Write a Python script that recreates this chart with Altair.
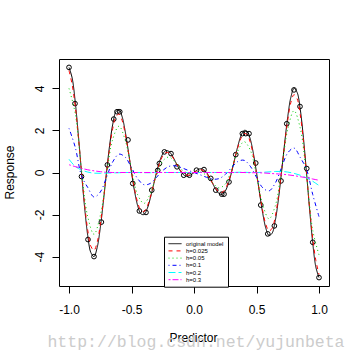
import altair as alt
import pandas as pd

# ---------------- data ----------------
x_fine = [-1.0, -0.975, -0.95, -0.925, -0.9, -0.875, -0.85, -0.825, -0.8, -0.775,
          -0.75, -0.725, -0.7, -0.675, -0.65, -0.625, -0.6, -0.575, -0.55, -0.525,
          -0.5, -0.475, -0.45, -0.425, -0.4, -0.375, -0.35, -0.325, -0.3, -0.275,
          -0.25, -0.225, -0.2, -0.175, -0.15, -0.125, -0.1, -0.075, -0.05, -0.025,
          0.0, 0.025, 0.05, 0.075, 0.1, 0.125, 0.15, 0.175, 0.2, 0.225,
          0.25, 0.275, 0.3, 0.325, 0.35, 0.375, 0.4, 0.425, 0.45, 0.475,
          0.5, 0.525, 0.55, 0.575, 0.6, 0.625, 0.65, 0.675, 0.7, 0.725,
          0.75, 0.775, 0.8, 0.825, 0.85, 0.875, 0.9, 0.925, 0.95, 0.975, 1.0]

orig_y = [5.0, 4.504, 3.359, 1.770, 0.0, -1.674, -3.005, -3.811, -4.0, -3.580,
          -2.652, -1.387, 0.0, 1.292, 2.298, 2.887, 3.0, 2.656, 1.945, 1.005,
          0.0, -0.909, -1.591, -1.963, -2.0, -1.732, -1.237, -0.622, 0.0, 0.526,
          0.884, 1.039, 1.0, 0.808, 0.530, 0.239, 0.0, -0.144, -0.177, -0.115,
          0.0, 0.115, 0.177, 0.144, 0.0, -0.239, -0.530, -0.808, -1.0, -1.039,
          -0.884, -0.526, 0.0, 0.622, 1.237, 1.732, 2.0, 1.963, 1.591, 0.909,
          0.0, -1.005, -1.945, -2.656, -3.0, -2.887, -2.298, -1.292, 0.0, 1.387,
          2.652, 3.580, 4.0, 3.811, 3.005, 1.674, 0.0, -1.770, -3.359, -4.504, -5.0]

h025_y = [4.85, 4.19, 3.143, 1.681, 0.045, -1.508, -2.750, -3.511, -3.704, -3.333,
          -2.488, -1.326, -0.045, 1.155, 2.096, 2.656, 2.778, 2.477, 1.833, 0.972,
          0.045, -0.800, -1.441, -1.800, -1.852, -1.621, -1.178, -0.618, -0.045, 0.445,
          0.786, 0.945, 0.926, 0.766, 0.523, 0.263, 0.045, -0.092, -0.131, -0.089,
          0.0, 0.089, 0.131, 0.092, -0.045, -0.263, -0.523, -0.766, -0.926, -0.945,
          -0.786, -0.445, 0.045, 0.618, 1.178, 1.621, 1.852, 1.800, 1.441, 0.800,
          -0.045, -0.972, -1.833, -2.477, -2.778, -2.656, -2.096, -1.155, 0.045, 1.326,
          2.488, 3.333, 3.704, 3.511, 2.750, 1.508, -0.045, -1.681, -3.143, -4.19, -4.85]

x_coarse = [-1.0, -0.95, -0.9, -0.85, -0.8, -0.75, -0.7, -0.65, -0.6, -0.55,
            -0.5, -0.45, -0.4, -0.35, -0.3, -0.25, -0.2, -0.15, -0.1, -0.05,
            0.0, 0.05, 0.1, 0.15, 0.2, 0.25, 0.3, 0.35, 0.4, 0.45,
            0.5, 0.55, 0.6, 0.65, 0.7, 0.75, 0.8, 0.85, 0.9, 0.95, 1.0]

h05_y = [4.0, 2.8, 0.144, -2.107, -2.94, -2.051, -0.144, 1.587, 2.205, 1.532,
         0.144, -1.067, -1.47, -1.011, -0.144, 0.548, 0.735, 0.492, 0.144, -0.028,
         0.0, 0.028, -0.144, -0.492, -0.735, -0.548, 0.144, 1.011, 1.47, 1.067,
         -0.144, -1.532, -2.205, -1.587, 0.144, 2.051, 2.94, 2.107, -0.144, -2.75, -3.92]

h1_y = [2.1, 1.2, -0.15, -0.713, -1.164, -0.933, -0.228, 0.507, 0.873, 0.728,
        0.228, -0.301, -0.582, -0.521, -0.228, 0.096, 0.291, 0.316, 0.228, 0.110,
        0.0, -0.110, -0.228, -0.316, -0.291, -0.096, 0.228, 0.521, 0.582, 0.301,
        -0.228, -0.728, -0.873, -0.507, 0.228, 0.933, 1.164, 0.713, 0.15, -1.05, -2.1]

h2_y = [0.63, 0.29, 0.12, 0.02, -0.03, -0.04, -0.03, -0.02, -0.01, 0.0,
        0.0, 0.0, -0.01, -0.01, 0.0, 0.0, 0.0, 0.0, 0.0, 0.0,
        0.0, 0.0, 0.0, 0.0, 0.0, 0.0, 0.0, 0.01, 0.01, 0.0,
        0.0, 0.01, 0.03, 0.05, 0.05, 0.02, -0.04, -0.13, -0.26, -0.42, -0.62]

h3_y = [0.37, 0.28, 0.2, 0.13, 0.08, 0.04, 0.01, 0.0, 0.0, 0.0,
        0.0, 0.0, 0.0, 0.0, 0.0, 0.0, 0.0, 0.0, 0.0, 0.0,
        0.0, 0.0, 0.0, 0.0, 0.0, 0.0, 0.0, 0.0, 0.0, -0.01,
        -0.01, -0.02, -0.04, -0.06, -0.08, -0.11, -0.15, -0.2, -0.25, -0.31, -0.37]

pt_x = [-1.0, -0.952, -0.9, -0.848, -0.8, -0.741, -0.693, -0.642, -0.616, -0.594,
        -0.528, -0.49, -0.437, -0.384, -0.338, -0.29, -0.277, -0.237, -0.184, -0.136,
        -0.082, -0.037, 0.02, 0.08, 0.134, 0.174, 0.222, 0.24, 0.28, 0.334,
        0.387, 0.414, 0.44, 0.494, 0.534, 0.59, 0.643, 0.696, 0.742, 0.80,
        0.848, 0.902, 0.95, 1.0]
pt_y = [5.0, 3.28, -0.19, -3.19, -4.0, -2.36, 0.36, 2.54, 2.89, 2.89,
        1.55, -0.52, -1.83, -1.9, -0.84, 0.1, 0.43, 0.98, 0.9, 0.27,
        -0.13, -0.13, 0.11, 0.14, -0.28, -0.84, -1.03, -1.03, -0.45, 0.85,
        1.85, 1.85, 1.85, 0.45, -1.55, -2.92, -2.54, -0.4, 2.32, 3.93,
        3.14, 0.19, -3.32, -5.0]

series_names = ["original model", "h=0.025", "h=0.05", "h=0.1", "h=0.2", "h=0.3"]
series_colors = ["#000000", "#FF0000", "#00CD00", "#0000FF", "#00FFFF", "#FF00FF"]
series_dash = [[1, 0], [4, 4], [1, 3], [1, 3, 4, 3], [7, 3], [2, 2, 6, 2]]

series_data = [
    (x_fine, orig_y), (x_fine, h025_y), (x_coarse, h05_y),
    (x_coarse, h1_y), (x_coarse, h2_y), (x_coarse, h3_y),
]

rows = []
for i, (name, (xs, ys)) in enumerate(zip(series_names, series_data)):
    for xv, yv in zip(xs, ys):
        rows.append({"x": xv, "y": yv, "series": name, "ord": i})
lines_df = pd.DataFrame(rows)
pts_df = pd.DataFrame({"x": pt_x, "y": pt_y})

# ---------------- chart ----------------
xscale = alt.Scale(domain=[-1.08, 1.08], nice=False, zero=False)
yscale = alt.Scale(domain=[-5.4, 5.4], nice=False, zero=False)

xaxis = alt.Axis(values=[-1, -0.5, 0, 0.5, 1], format=".1f",
                 labelExpr="replace(datum.label, '\u2212', '-')",
                 title="Predictor", labelBaseline="alphabetic", labelPadding=20,
                 titleX=134, titleY=51, titleAlign="center", titleBaseline="middle")
yaxis = alt.Axis(values=[-4, -2, 0, 2, 4], format="d",
                 labelExpr="replace(datum.label, '\u2212', '-')",
                 title="Response", labelAngle=270, labelAlign="center",
                 labelBaseline="alphabetic", labelPadding=9,
                 titleAngle=270, titleX=-49.5, titleY=113,
                 titleAlign="center", titleBaseline="middle")

points = alt.Chart(pts_df).mark_point(
    shape="circle", filled=False, color="black", size=22, strokeWidth=1, opacity=1
).encode(
    x=alt.X("x:Q", scale=xscale, axis=xaxis),
    y=alt.Y("y:Q", scale=yscale, axis=yaxis),
)

lines = alt.Chart(lines_df).mark_line(
    strokeWidth=1, interpolate="catmull-rom"
).encode(
    x=alt.X("x:Q", scale=xscale),
    y=alt.Y("y:Q", scale=yscale),
    color=alt.Color("series:N",
                    scale=alt.Scale(domain=series_names, range=series_colors),
                    legend=alt.Legend(title=None)),
    strokeDash=alt.StrokeDash("series:N",
                              scale=alt.Scale(domain=series_names, range=series_dash),
                              legend=alt.Legend(title=None)),
    order="ord:Q",
)

watermark = alt.Chart(pd.DataFrame({"t": ["http://blog.csdn.net/yujunbeta"]})).mark_text(
    font="Liberation Mono", fontSize=16.5, color="#cccccc",
    align="center", baseline="middle"
).encode(
    text="t:N", x=alt.value(137), y=alt.value(283)
)

chart = alt.layer(points, lines, watermark).properties(
    width=270, height=227,
    autosize=alt.AutoSizeParams(type="none"),
    padding={"left": 59, "top": 59, "right": 31, "bottom": 74},
    background="white",
).configure_view(
    stroke="black", strokeWidth=1
).configure_axis(
    domain=False, grid=False, ticks=True, tickColor="black", tickSize=7,
    tickWidth=1, labelColor="black", labelFont="Liberation Sans", labelFontSize=12,
    titleFont="Liberation Sans", titleFontSize=12, titleFontWeight="normal",
    titleColor="black", zindex=1,
).configure_legend(
    orient="none", legendX=105, legendY=177.7, strokeColor="black",
    fillColor="white", padding=4, labelFontSize=6, labelFont="Liberation Sans",
    labelColor="black", symbolType="stroke", symbolSize=169, symbolStrokeWidth=1,
    clipHeight=6, rowPadding=1.2, labelOffset=4, labelLimit=200,
)

chart.save("out.html", embed_options={"renderer": "svg", "actions": False})
